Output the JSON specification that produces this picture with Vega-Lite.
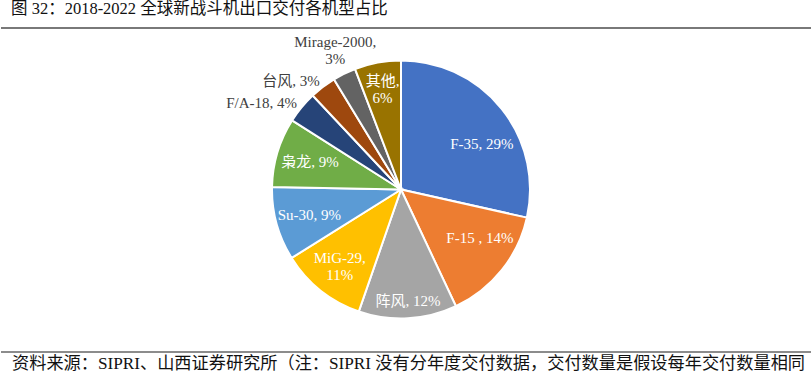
{
  "$schema": "https://vega.github.io/schema/vega-lite/v6.json",
  "width": 811,
  "height": 376,
  "autosize": {"type": "fit", "contains": "padding"},
  "padding": {"left": 0, "top": 0, "bottom": 0, "right": 9},
  "background": "white",
  "config": {"view": {"stroke": null}},
  "data": {
    "values": [
      {"rank": 1, "model": "F-35", "share": 28.5, "label": "F-35, 29%"},
      {"rank": 2, "model": "F-15", "share": 14.5, "label": "F-15 , 14%"},
      {"rank": 3, "model": "阵风", "share": 12.3, "label": "阵风, 12%"},
      {"rank": 4, "model": "MiG-29", "share": 10.8, "label": "MiG-29,\n11%"},
      {"rank": 5, "model": "Su-30", "share": 9.2, "label": "Su-30, 9%"},
      {"rank": 6, "model": "枭龙", "share": 8.7, "label": "枭龙, 9%"},
      {"rank": 7, "model": "F/A-18", "share": 4.0, "label": "F/A-18, 4%"},
      {"rank": 8, "model": "台风", "share": 3.3, "label": "台风, 3%"},
      {"rank": 9, "model": "Mirage-2000", "share": 2.9, "label": "Mirage-2000,\n3%"},
      {"rank": 10, "model": "其他", "share": 5.8, "label": "其他,\n6%"}
    ]
  },
  "layer": [
    {
      "mark": {"type": "arc", "outerRadius": 129, "stroke": "white", "strokeWidth": 2},
      "encoding": {
        "theta": {"field": "share", "type": "quantitative", "stack": true},
        "order": {"field": "rank", "type": "quantitative"},
        "color": {
          "field": "model",
          "type": "nominal",
          "legend": null,
          "scale": {
            "domain": ["F-35", "F-15", "阵风", "MiG-29", "Su-30", "枭龙", "F/A-18", "台风", "Mirage-2000", "其他"],
            "range": ["#4472C4", "#ED7D31", "#A5A5A5", "#FFC000", "#5B9BD5", "#70AD47", "#264478", "#9E480E", "#636363", "#997300"]
          }
        }
      }
    },
    {
      "mark": {"type": "text", "radius": 95, "fontSize": 15, "font": "Liberation Serif, Noto Sans CJK SC", "fill": "white", "align": "center", "baseline": "middle", "lineBreak": "\n", "lineHeight": 17},
      "encoding": {
        "theta": {"field": "share", "type": "quantitative", "stack": true},
        "order": {"field": "rank", "type": "quantitative"},
        "detail": {"field": "model", "type": "nominal"},
        "text": {"condition": {"test": "indexof(['Su-30','枭龙'], datum.model) >= 0", "field": "label"}, "value": ""}
      }
    },
    {
      "mark": {"type": "text", "radius": 96, "dx": 6, "dy": 15, "fontSize": 15, "font": "Liberation Serif, Noto Sans CJK SC", "fill": "white", "align": "center", "baseline": "middle", "lineBreak": "\n", "lineHeight": 17},
      "encoding": {
        "theta": {"field": "share", "type": "quantitative", "stack": true},
        "order": {"field": "rank", "type": "quantitative"},
        "detail": {"field": "model", "type": "nominal"},
        "text": {"condition": {"test": "datum.model === 'F-35'", "field": "label"}, "value": ""}
      }
    },
    {
      "mark": {"type": "text", "radius": 96, "dx": 4, "dy": -12, "fontSize": 15, "font": "Liberation Serif, Noto Sans CJK SC", "fill": "white", "align": "center", "baseline": "middle", "lineBreak": "\n", "lineHeight": 17},
      "encoding": {
        "theta": {"field": "share", "type": "quantitative", "stack": true},
        "order": {"field": "rank", "type": "quantitative"},
        "detail": {"field": "model", "type": "nominal"},
        "text": {"condition": {"test": "datum.model === 'F-15'", "field": "label"}, "value": ""}
      }
    },
    {
      "mark": {"type": "text", "radius": 112, "dx": 1, "fontSize": 15, "font": "Liberation Serif, Noto Sans CJK SC", "fill": "white", "align": "center", "baseline": "middle", "lineBreak": "\n", "lineHeight": 17},
      "encoding": {
        "theta": {"field": "share", "type": "quantitative", "stack": true},
        "order": {"field": "rank", "type": "quantitative"},
        "detail": {"field": "model", "type": "nominal"},
        "text": {"condition": {"test": "datum.model === '阵风'", "field": "label"}, "value": ""}
      }
    },
    {
      "mark": {"type": "text", "radius": 100, "dx": 1, "dy": -10, "fontSize": 15, "font": "Liberation Serif, Noto Sans CJK SC", "fill": "white", "align": "center", "baseline": "middle", "lineBreak": "\n", "lineHeight": 17},
      "encoding": {
        "theta": {"field": "share", "type": "quantitative", "stack": true},
        "order": {"field": "rank", "type": "quantitative"},
        "detail": {"field": "model", "type": "nominal"},
        "text": {"condition": {"test": "datum.model === 'MiG-29'", "field": "label"}, "value": ""}
      }
    },
    {
      "mark": {"type": "text", "radius": 102, "dy": -8, "fontSize": 15, "font": "Liberation Serif, Noto Sans CJK SC", "fill": "white", "align": "center", "baseline": "middle", "lineBreak": "\n", "lineHeight": 17},
      "encoding": {
        "theta": {"field": "share", "type": "quantitative", "stack": true},
        "order": {"field": "rank", "type": "quantitative"},
        "detail": {"field": "model", "type": "nominal"},
        "text": {"condition": {"test": "datum.model === '其他'", "field": "label"}, "value": ""}
      }
    },
    {
      "mark": {"type": "text", "radius": 154, "dx": 2, "dy": -9, "fontSize": 15, "font": "Liberation Serif, Noto Sans CJK SC", "fill": "#404040", "align": "center", "baseline": "middle", "lineBreak": "\n", "lineHeight": 17},
      "encoding": {
        "theta": {"field": "share", "type": "quantitative", "stack": true},
        "order": {"field": "rank", "type": "quantitative"},
        "detail": {"field": "model", "type": "nominal"},
        "text": {"condition": {"test": "datum.model === 'Mirage-2000'", "field": "label"}, "value": ""}
      }
    },
    {
      "mark": {"type": "text", "radius": 137.5, "dx": 2, "dy": 1, "fontSize": 15, "font": "Liberation Serif, Noto Sans CJK SC", "fill": "#404040", "align": "right", "baseline": "middle", "lineBreak": "\n", "lineHeight": 17},
      "encoding": {
        "theta": {"field": "share", "type": "quantitative", "stack": true},
        "order": {"field": "rank", "type": "quantitative"},
        "detail": {"field": "model", "type": "nominal"},
        "text": {"condition": {"test": "indexof(['台风','F/A-18'], datum.model) >= 0", "field": "label"}, "value": ""}
      }
    },
    {
      "data": {"values": [{}]},
      "mark": {"type": "rule", "stroke": "#4d4d4d", "strokeWidth": 1.5},
      "encoding": {"x": {"value": 0}, "x2": {"value": 811}, "y": {"value": 25}}
    },
    {
      "data": {"values": [{}]},
      "mark": {"type": "rule", "stroke": "#8c8c8c", "strokeWidth": 2},
      "encoding": {"x": {"value": 0}, "x2": {"value": 811}, "y": {"value": 349}}
    },
    {
      "data": {"values": [{}]},
      "mark": {"type": "text", "align": "left", "baseline": "alphabetic", "fontSize": 16.5, "font": "Liberation Serif, Noto Sans CJK SC", "fill": "#111111"},
      "encoding": {"x": {"value": 10}, "y": {"value": 10.5}, "text": {"value": "图 32：2018-2022 全球新战斗机出口交付各机型占比"}}
    },
    {
      "data": {"values": [{}]},
      "mark": {"type": "text", "align": "left", "baseline": "alphabetic", "fontSize": 17.2, "font": "Liberation Serif, Noto Sans CJK SC", "fill": "#111111"},
      "encoding": {"x": {"value": 11}, "y": {"value": 366}, "text": {"value": "资料来源：SIPRI、山西证券研究所（注：SIPRI 没有分年度交付数据，交付数量是假设每年交付数量相同"}}
    }
  ]
}
